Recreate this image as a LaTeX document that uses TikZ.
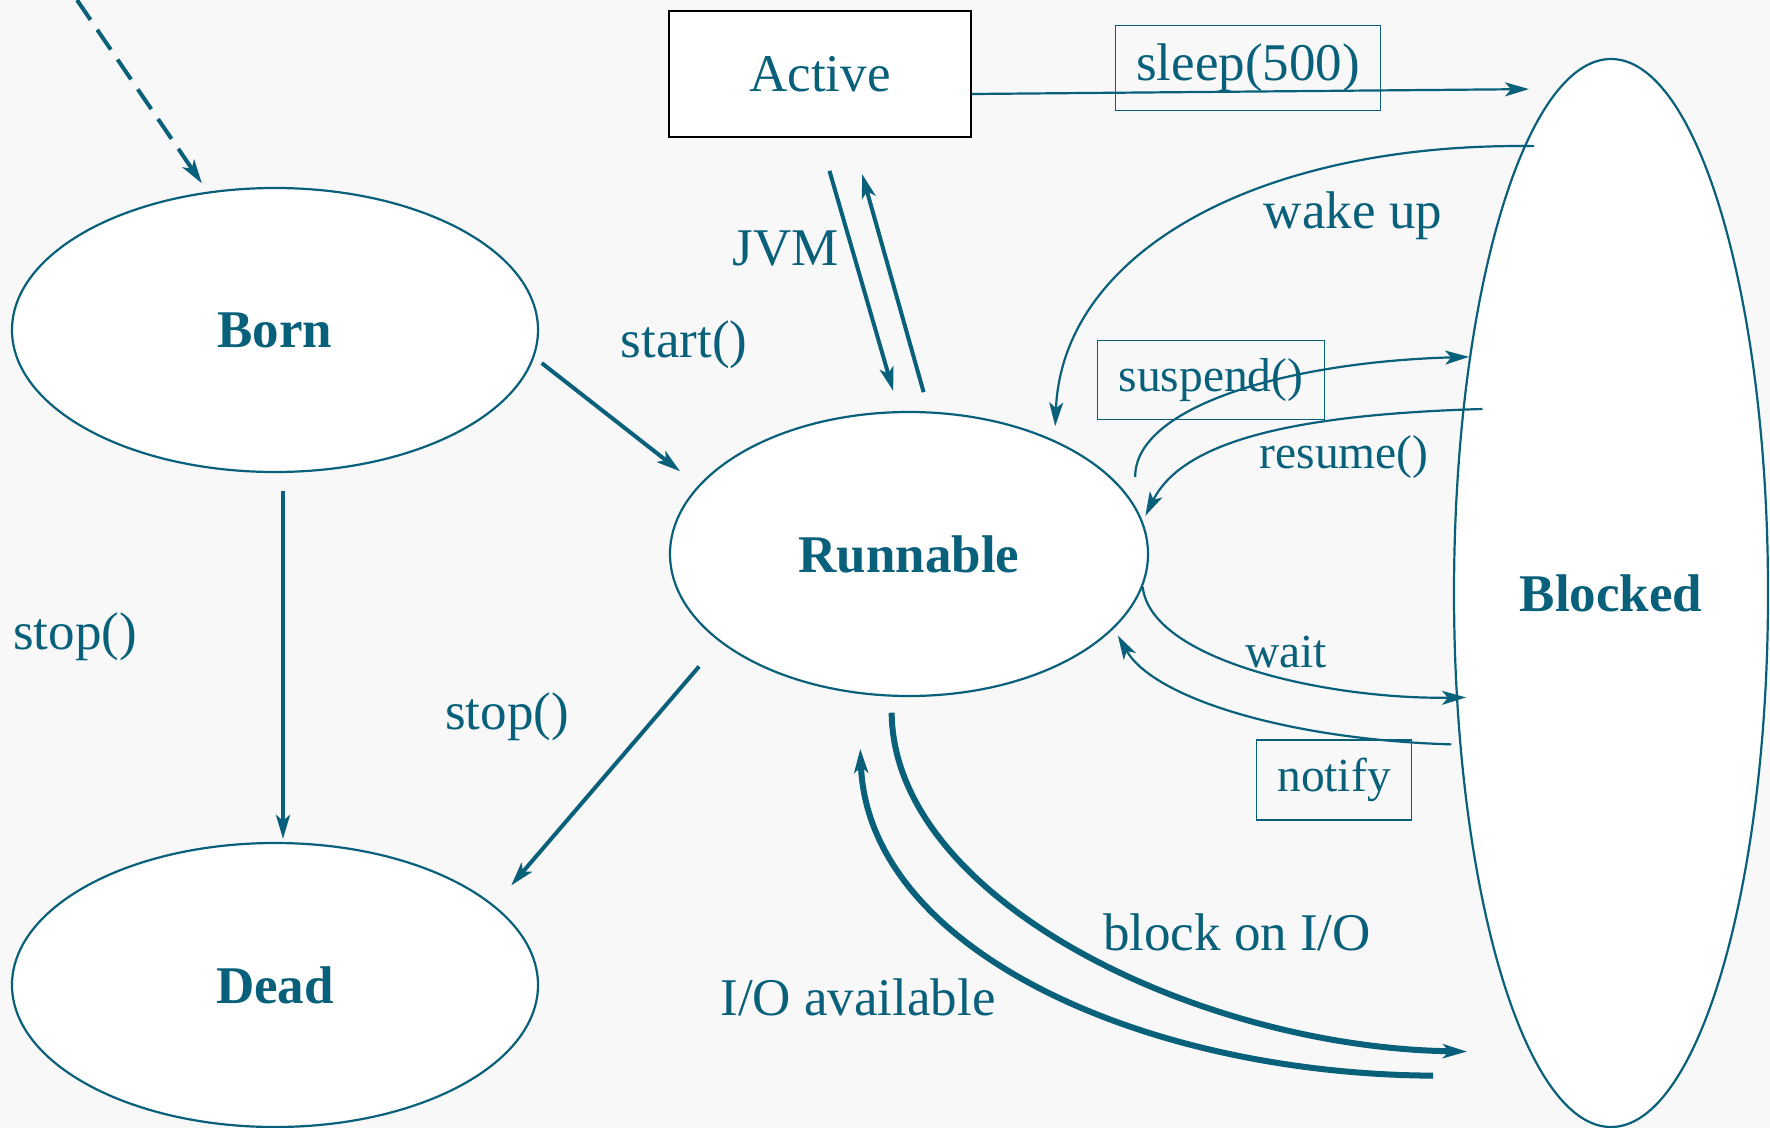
\documentclass[tikz,border=0pt]{standalone}
\usepackage{fontspec}
\setmainfont{Liberation Serif}
\usetikzlibrary{arrows.meta,shapes.geometric}

\definecolor{jteal}{RGB}{8,96,122}
\definecolor{paper}{RGB}{248,248,248}
\newcommand\lblfont{\fontsize{26.5}{30}\selectfont}
\newcommand\smlfont{\fontsize{23.75}{27}\selectfont}

\begin{document}
\begin{tikzpicture}[->,>={Stealth[length=12pt,width=7pt,inset=3pt]},
  x=0.5pt,y=-0.5pt,color=jteal,font=\lblfont]
  \tikzstyle{tstate}=[ellipse,draw=jteal,line width=1.1pt,fill=white,
    font=\lblfont\bfseries,minimum width=263pt,minimum height=142pt]
  \tikzstyle{lbox}=[draw=jteal,line width=0.8pt]
  \tikzstyle{wire}=[line width=1.1pt]
  \tikzstyle{bar}=[line width=2pt]
  \tikzstyle{pipe}=[line width=3pt]

  \useasboundingbox (0,0) rectangle (1770,1128);
  \fill[paper] (0,0) rectangle (1770,1128);

  % states
  \node[tstate] (Born) at (275,330) {Born};
  \node[tstate] (Dead) at (275,985) {Dead};
  \node[tstate,minimum width=239pt] (Runnable) at (909,554) {Runnable};
  \node[tstate,minimum width=157pt,minimum height=534pt] (Blocked) at (1611,593) {Blocked};
  \node[draw=black,line width=1.2pt,fill=white,minimum width=151pt,
    minimum height=63pt] (Active) at (820,74) {Active};

  % boxed labels
  \node[lbox,minimum width=132.5pt,minimum height=42.5pt] (sleep) at (1248,68) {sleep(500)};
  \node[lbox,font=\smlfont,minimum width=113.5pt,minimum height=39.5pt] (suspend) at (1211,380) {suspend()};
  \node[lbox,font=\smlfont,minimum width=77.5pt,minimum height=40pt] (notify) at (1334,780) {notify};

  % plain labels
  \node (jvm)     at (786,249)  {JVM};
  \node (start)   at (684,345)  {start()};
  \node (stopA)   at (75,637)   {stop()};
  \node (stopB)   at (507,717)  {stop()};
  \node (wake)    at (1353,216) {wake up};
  \node[font=\smlfont] (resume) at (1344,457) {resume()};
  \node[font=\smlfont] (wait)   at (1286,652) {wait};
  \node (blockio) at (1237,932) {block on I/O};
  \node (ioavail) at (858,997)  {I/O available};

  \coordinate (entry) at (77,0);

  % transitions
  \draw[bar,dash pattern=on 12pt off 6pt,shorten >=5pt] (entry) -- (Born.116);
  \draw[bar,shorten <=4.75pt,shorten >=11.5pt] (Born.-6) -- (Runnable.162);
  \draw[bar,shorten <=9pt,shorten >=1.5pt] ([xshift=4pt]Born.south) -- ([xshift=4pt]Dead.north);
  \draw[bar,shorten <=16pt,shorten >=13pt] (Runnable.205) -- (Dead.20);
  \draw[bar,shorten <=17pt,shorten >=10.4pt] (Active.south) -- (Runnable.94.5);
  \draw[bar,shorten <=10pt,shorten >=18.7pt] (Runnable.82) -- ([xshift=16pt]Active.south);
  \draw[wire,shorten >=14.5pt] ([yshift=-10pt]Active.east) -- (Blocked.96);

  \draw[wire,shorten <=-5pt,shorten >=7pt] (Blocked.101.5) .. controls +(-262,-4) and +(8,-190) .. (Runnable.38.6);
  \draw[wire,shorten <=14.5pt] (Runnable.12.9) .. controls +(0,-100) and +(-180,5) .. (Blocked.121.5);
  \draw[wire,shorten <=-10pt,shorten >=3pt] (Blocked.129) .. controls +(-170,5) and +(40,-80) .. (Runnable.8);
  \draw[wire,shorten >=-5pt] (Runnable.-8) .. controls +(8,74) and +(-127,2) .. (Blocked.214);
  \draw[wire,shorten <=4pt,shorten >=4pt] (Blocked.225.5) .. controls +(-170,-5) and +(40,70) .. (Runnable.-20);

  \draw[pipe,shorten <=8pt,shorten >=31.5pt] (Runnable.263.6) .. controls +(2,204) and +(-330,-5) .. (Blocked.260);
  \draw[pipe,shorten <=55pt,shorten >=27.5pt] (Blocked.262.7) .. controls +(-398,-2) and +(10,257) .. (Runnable.250.6);
\end{tikzpicture}
\end{document}
